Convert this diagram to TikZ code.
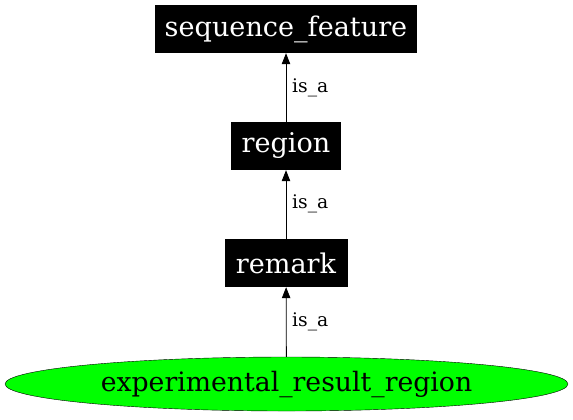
\documentclass[tikz,border=0pt]{standalone}
\usepackage{fontspec}
\setmainfont{DejaVu Serif}
\usetikzlibrary{arrows.meta,shapes.geometric}
\tikzset{
  termbox/.style={fill=black,text=white,inner sep=0pt,font=\fontsize{27.2}{30}\selectfont,minimum height=48bp},
  rootnode/.style={ellipse,draw=black,fill=green,inner sep=0pt,minimum width=563bp,minimum height=54bp,font=\fontsize{26.8}{30}\selectfont},
  isa/.style={-{Triangle[length=11bp,width=8.5bp]},draw=black,line width=0.8bp},
  elabel/.style={anchor=west,inner sep=0pt,font=\fontsize{18.8}{22}\selectfont}
}
\begin{document}
\begin{tikzpicture}[x=1bp,y=-1bp]
\useasboundingbox (0,0) rectangle (573,419);
\node[termbox,minimum width=262bp] (sf) at (286,29) {sequence\_feature};
\node[termbox,minimum width=110bp] (reg) at (286,146) {region};
\node[termbox,minimum width=123bp] (rem) at (286,263) {remark};
\node[rootnode] (err) at (286.5,384) {experimental\_result\_region};
\draw[isa] (reg) -- (sf);
\draw[isa] (rem) -- (reg);
\draw[isa] (err) -- (rem);
\node[elabel] (l1) at (292,88) {is\_a};
\node[elabel] (l2) at (292,204) {is\_a};
\node[elabel] (l3) at (292,322) {is\_a};
\end{tikzpicture}
\end{document}
